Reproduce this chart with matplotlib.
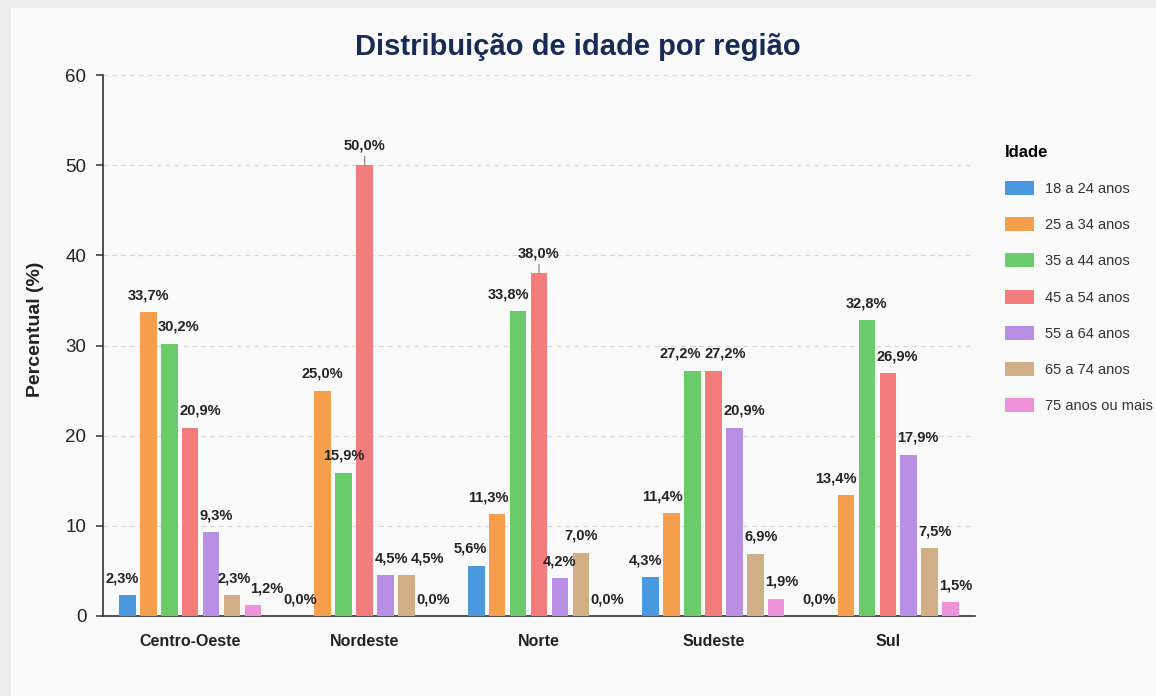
import matplotlib
matplotlib.use("Agg")
import matplotlib.pyplot as plt
from matplotlib import font_manager as fm
from matplotlib.patches import Rectangle
import numpy as np

# ---------------- data ----------------
regions = ["Centro-Oeste", "Nordeste", "Norte", "Sudeste", "Sul"]
age_groups = ["18 a 24 anos", "25 a 34 anos", "35 a 44 anos", "45 a 54 anos",
              "55 a 64 anos", "65 a 74 anos", "75 anos ou mais"]
pct_18_24 = [2.3, 0.0, 5.6, 4.3, 0.0]
pct_25_34 = [33.7, 25.0, 11.3, 11.4, 13.4]
pct_35_44 = [30.2, 15.9, 33.8, 27.2, 32.8]
pct_45_54 = [20.9, 50.0, 38.0, 27.2, 26.9]
pct_55_64 = [9.3, 4.5, 4.2, 20.9, 17.9]
pct_65_74 = [2.3, 4.5, 7.0, 6.9, 7.5]
pct_75_plus = [1.2, 0.0, 0.0, 1.9, 1.5]
y_ticks = [0, 10, 20, 30, 40, 50, 60]

series = [pct_18_24, pct_25_34, pct_35_44, pct_45_54, pct_55_64, pct_65_74, pct_75_plus]
colors = ["#4A98DE", "#F6A04D", "#6BCB6B", "#F47C7C", "#B98EE5", "#D2AE86", "#EE92DA"]

# ---------------- fonts ----------------
names = {f.name for f in fm.fontManager.ttflist}
BASE = "Liberation Sans" if "Liberation Sans" in names else "DejaVu Sans"
if "Liberation Sans Narrow" in names:
    LABEL_FONT, LABEL_SIZE = "Liberation Sans Narrow", 11.5
else:
    LABEL_FONT, LABEL_SIZE = BASE, 10.5
plt.rcParams["font.family"] = [BASE, "DejaVu Sans"]

W, H = 1156, 696
fig = plt.figure(figsize=(W / 100, H / 100), dpi=100, facecolor="#FAFAFA")

# outer screenshot frame strips
fig.patches.append(Rectangle((0, 0), 11 / W, 1, transform=fig.transFigure,
                             facecolor="#EDEDED", edgecolor="none", zorder=-5))
fig.patches.append(Rectangle((0, 1 - 8 / H), 1, 8 / H, transform=fig.transFigure,
                             facecolor="#EDEDED", edgecolor="none", zorder=-5))

ax_left, ax_right, ax_top, ax_bottom = 103, 975, 75, 616
ax = fig.add_axes([ax_left / W, 1 - ax_bottom / H, (ax_right - ax_left) / W,
                   (ax_bottom - ax_top) / H])
ax.set_facecolor("none")

n_groups = len(regions)
n_series = len(series)
x = np.arange(n_groups)
pitch = 0.12
bw = 0.095

containers = []
bar_rects = []  # (series idx, group idx, left, width, height)
for k, (vals, c) in enumerate(zip(series, colors)):
    xs = x + (k - (n_series - 1) / 2) * pitch
    cont = ax.bar(xs, vals, width=bw, color=c, edgecolor="none", zorder=3)
    containers.append(cont)
    for g, (xx, v) in enumerate(zip(xs, vals)):
        bar_rects.append((k, g, xx - bw / 2, bw, v))

ax.set_xlim(-0.5, n_groups - 0.5)
ax.set_ylim(0, 60)
ax.set_yticks(y_ticks)
ax.set_xticks(x)
ax.set_xticklabels(regions, fontsize=11.5, fontweight="bold", color="#222222")
ax.tick_params(axis="x", length=0, pad=13)
ax.tick_params(axis="y", length=5, width=1.1, color="#333333", labelsize=13.5,
               labelcolor="#222222", pad=7)
ax.yaxis.grid(True, linestyle=(0, (4, 4)), color="#D3D3D3", linewidth=0.8, zorder=0)
ax.set_axisbelow(True)
for s in ["top", "right"]:
    ax.spines[s].set_visible(False)
for s in ["left", "bottom"]:
    ax.spines[s].set_color("#333333")
    ax.spines[s].set_linewidth(1.2)

ax.set_ylabel("Percentual (%)", fontsize=14, fontweight="bold", color="#222222")
ax.yaxis.set_label_coords((44 - ax_left) / (ax_right - ax_left), 0.53)

fig.text(0.5, 1 - 47 / H, "Distribuição de idade por região", ha="center", va="center",
         fontsize=21, fontweight="bold", color="#172B55")

# ---------------- value labels with simple repel ----------------
LEADER_MIN = 35.0
labels = []
for (k, g, left, w, v) in bar_rects:
    txt = f"{v:.1f}".replace(".", ",") + "%"
    cx = left + w / 2
    dy0 = 20 if v >= LEADER_MIN else 17
    kw = {}
    if v >= LEADER_MIN:
        kw["arrowprops"] = dict(arrowstyle="-", color="#888888", lw=0.9,
                                shrinkA=1, shrinkB=0)
    ann = ax.annotate(txt, xy=(cx, v), xytext=(0, dy0), textcoords="offset pixels",
                      ha="center", va="center", fontsize=LABEL_SIZE, fontweight="bold",
                      family=[LABEL_FONT, BASE, "DejaVu Sans"], color="#222222",
                      zorder=5, **kw)
    labels.append(dict(ann=ann, k=k, g=g, cx=cx, v=v, dx=0.0, dy=float(dy0)))

fig.canvas.draw()
r = fig.canvas.get_renderer()
T = ax.transData
bars_px = []
for (k, g, left, w, v) in bar_rects:
    x0, y0 = T.transform((left, 0))
    x1, y1 = T.transform((left + w, v))
    bars_px.append((k, g, x0, x1, y0, y1))
for L in labels:
    bb = L["ann"].get_window_extent(r)
    L["w"], L["h"] = bb.width, bb.height * 0.8
    L["ax"], L["ay"] = T.transform((L["cx"], L["v"]))

PAD = 1.5
for it in range(400):
    moves = []
    for i, L in enumerate(labels):
        cx = L["ax"] + L["dx"]
        cy = L["ay"] + L["dy"]
        bx0, bx1 = cx - L["w"] / 2 - PAD, cx + L["w"] / 2 + PAD
        by0, by1 = cy - L["h"] / 2, cy + L["h"] / 2
        mx = my = 0.0
        for (k, g, x0, x1, y0, y1) in bars_px:
            if k == L["k"] and g == L["g"]:
                continue
            if x0 < bx1 and x1 > bx0 and y1 > by0 and y0 < by1:
                ox = min(bx1, x1) - max(bx0, x0)
                oy = y1 - by0
                if ox <= oy:
                    mx += ox if cx > (x0 + x1) / 2 else -ox
                else:
                    my += oy
        for j, M in enumerate(labels):
            if j == i:
                continue
            mcx = M["ax"] + M["dx"]
            mcy = M["ay"] + M["dy"]
            mx0, mx1 = mcx - M["w"] / 2 - PAD, mcx + M["w"] / 2 + PAD
            my0, my1 = mcy - M["h"] / 2, mcy + M["h"] / 2
            if mx0 < bx1 and mx1 > bx0 and my0 < by1 and my1 > by0:
                ox = min(bx1, mx1) - max(bx0, mx0)
                sgn = 1 if (cx > mcx or (cx == mcx and i > j)) else -1
                mx += sgn * ox
        moves.append((mx, my))
    for L, (mx, my) in zip(labels, moves):
        L["dx"] += 0.2 * mx
        L["dy"] += 0.2 * my
for L in labels:
    L["ann"].xyann = (L["dx"], L["dy"])

# ---------------- legend ----------------
leg = fig.legend([c for c in containers], age_groups, loc="upper left",
                 bbox_to_anchor=(992 / W, 1 - 132 / H), frameon=False,
                 title="Idade", title_fontproperties={"weight": "bold", "size": 12},
                 fontsize=10.5, handlelength=2.0, handleheight=1.1,
                 labelspacing=1.45, handletextpad=0.75, alignment="left")
for t in leg.get_texts():
    t.set_color("#333333")

fig.savefig("out.png", dpi=100, facecolor=fig.get_facecolor())
